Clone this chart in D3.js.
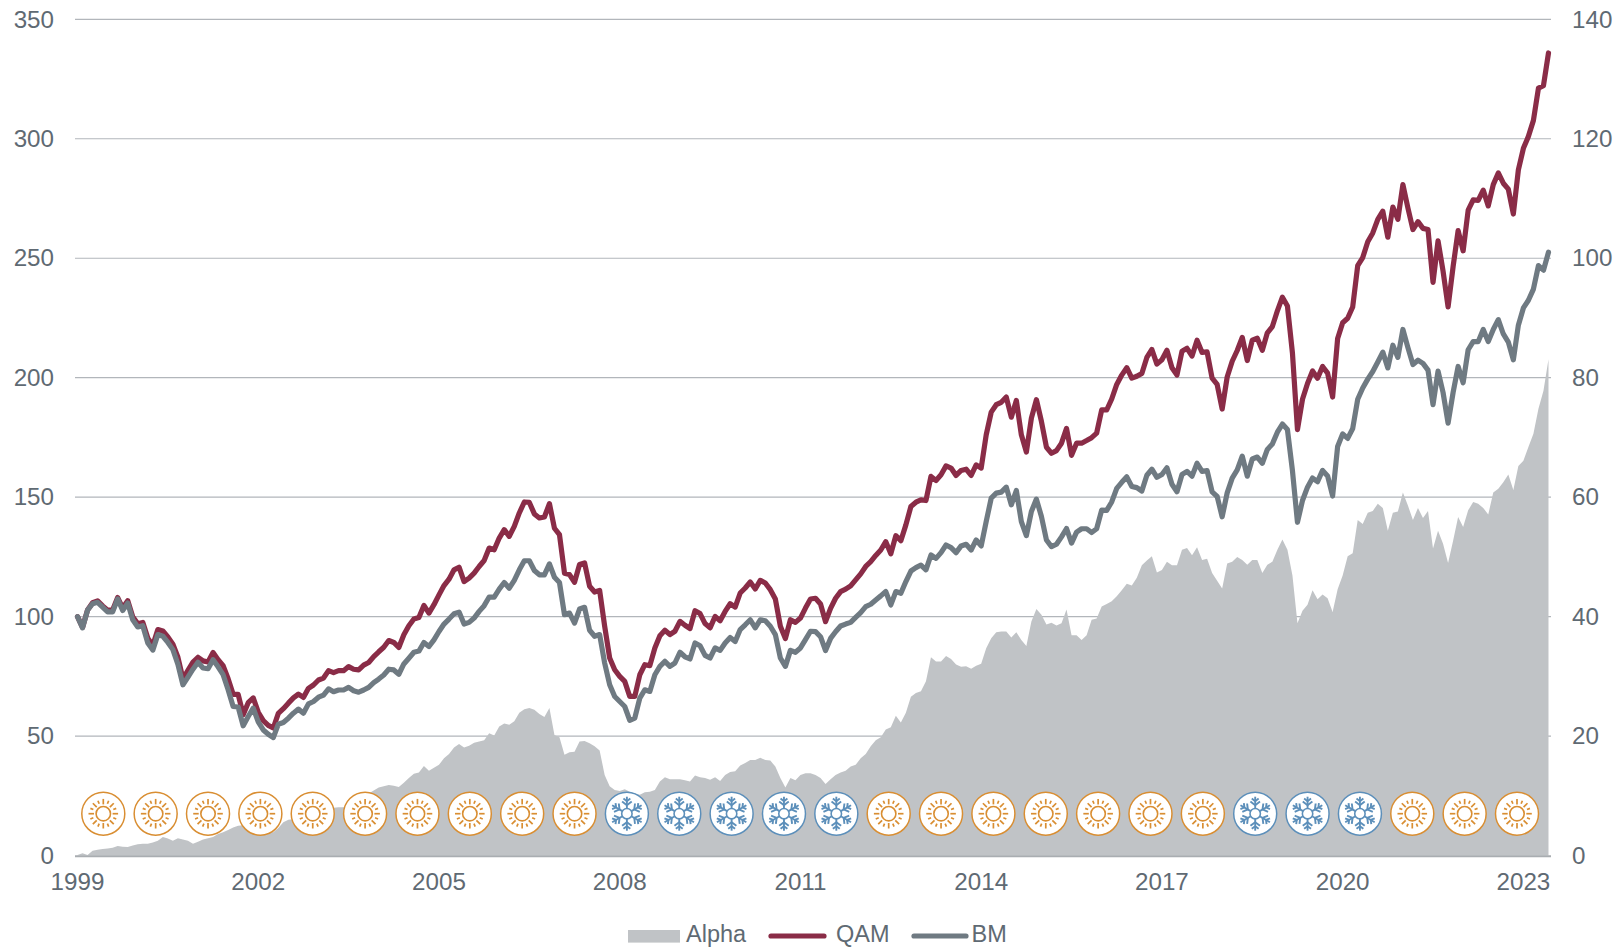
<!DOCTYPE html>
<html><head><meta charset="utf-8">
<script src="https://cdn.jsdelivr.net/npm/d3@7/dist/d3.min.js"></script>
<style>
html,body{margin:0;padding:0;background:#fff;overflow:hidden}
svg{display:block}
text{font-family:"Liberation Sans",Arial,sans-serif;fill:#5F6A73}
</style></head><body><div id="chart"></div>
<script>
const qam = [
100,95.5,102.8,105.8,106.6,104.5,102.7,102.8,108,103.6,106.7,100,97,97.6,91,88,94.6,94,91.5,88.5,83,74,77.5,81,83,81.5,81,85,82,79.5,74,67.5,67.5,59,64,66,60,56.5,54.5,53.4,59.5,61.5,63.8,66,67.6,66.2,70,71.4,73.5,
74.3,77.4,76.6,77.4,77.4,79.1,78,77.7,79.7,80.8,83.3,85.3,87.2,90,89.2,87.1,92.4,96.2,99,99.6,104.7,101.5,105,109.1,113,115.7,119.6,120.7,114.7,116.1,118.2,121,123.5,128.7,128,132.9,136.4,133.6,137.8,143.4,148,147.8,143,141.3,141.7,147.3,137,134.3,118.2,
117.6,114.4,121.8,122.5,112.7,110.3,111,96,82.7,77.8,75,72.9,66.6,66.6,75.7,79.9,79.5,86.9,92,94.3,92.5,93.9,98,96.4,95,102.5,101.3,97.1,95.3,100.1,98.3,102.2,105.4,104,109.9,112,114.5,111.6,115.2,114.1,111.3,107.4,96,90.8,98.7,97.6,99.4,103.6,107.4,
107.7,105.3,97.9,103.5,107.7,110.5,111.5,112.9,115.4,117.9,121,123,125.6,127.9,131.4,126.3,133.9,131.8,138.4,146.1,147.9,148.9,148.6,158.7,157,159.4,163.1,162.2,159.1,161.2,161.7,159.1,163.5,162.2,176.1,185.6,188.7,189.7,191.9,183.5,190.5,176.1,168.9,183.1,190.8,181.7,170.9,168.4,
169.5,172.6,178.8,167.5,172.6,172.6,173.7,174.9,176.8,186.5,186.5,191.1,197.2,201.1,204.2,199.8,200.6,201.8,208.5,211.8,205.7,207.5,211.5,204.2,201.1,211.1,212.3,209.1,215.7,210.6,210.8,199.8,197.2,186.9,200.3,206.9,211.4,216.9,207.2,215.7,216.5,211.5,218.8,221.4,228,233.7,230,210.3,178.3,
191,197.6,202.8,199.8,204.7,201.9,191.9,216.4,223,224.9,229.6,246.9,250.3,256.9,260.6,266.3,269.7,258.8,271.4,266.3,280.8,271,262,265.3,262.5,262,239.9,257.3,244.6,229.6,246.5,261.6,253.1,270.1,274.4,274.2,278.5,271.9,280.8,285.7,281.4,278.9,268.5,287,296,301,307.7,321.2,322.2,335.9];
const bm = [
100,95.3,102.7,105.4,106,104,102,102,107.4,102.6,105.7,98.7,95.7,96.2,89,86,92.5,91.8,89.2,86.2,80,71.5,74.7,78,80.9,78.5,78.2,82,79,75.7,69.4,62.4,62.2,54.3,58.2,61.7,56,52.6,50.8,49.4,55,55.7,57.5,59.6,61.3,59.6,63.5,64.5,66.3,
67.2,69.8,68.6,69.3,69.3,70.4,69,68.4,69.3,70.4,72.4,73.9,75.6,78,77.7,75.9,80.2,82.6,85.1,85.6,89.2,87.5,90.3,93.8,96.9,99,101.2,101.9,96.9,97.6,99.4,102.2,104.6,108.2,108.2,111.5,114.3,111.9,115.2,119.6,123.4,123.4,119.3,117.5,117.5,122.1,116.5,114.3,100.8,
101.5,97.3,103.2,103.9,94.3,91.8,92.5,80.6,71.5,66.6,64.5,62.4,56.6,57.5,65.9,69.4,68.7,75.7,79.2,81.3,79.2,80.6,85.1,83.2,82.3,89,87.8,83.8,82.7,86.9,85.9,89,91.3,89.6,94.6,96.6,98.7,95.3,98.7,98.3,96,92.5,82.7,79.2,85.9,85.1,86.9,90.4,93.9,
93.7,91.6,85.8,90.9,93.7,96.1,96.9,97.6,99.7,101.7,104.2,105.2,107,108.7,110.5,104.9,110.5,109.8,114.7,119.1,120.5,121.6,119.6,125.8,124.4,126.8,130,128.9,126.8,129.6,130.3,127.9,132.1,129.6,139.8,149.6,151.7,152.1,154.2,146.8,152.8,139.8,133.9,144,149.2,141.9,132.1,129.3,
130.3,133.4,136.9,130.8,135.4,136.8,136.8,135.2,136.8,144.6,144.5,148,153.7,156.2,158.5,154.5,154,152.6,159.2,161.7,158.3,159.5,162.3,155.4,152.3,159.5,160.8,158.8,164.2,160.8,161.1,152.2,150.3,141.8,151.8,158,161.4,167.2,158.8,166,166.8,164.2,170,172.3,177.2,180.6,178.3,161.1,139.5,
148.6,154.2,158,156.5,161.2,158.9,150.5,171.2,176.5,174.6,178.7,191,195.7,199.4,202.6,206.6,210.7,204.1,213.6,208.5,220.2,212.6,205.5,207.3,206,203.2,188.7,202.8,193.8,181,193.8,204.7,197.9,211.7,215.1,215.1,220.2,215.1,220.2,224.3,218.3,214.9,207.5,222,229.2,232.4,237.1,246.9,245,252.5];
const alpha = [
0.1,0.4,0.1,0.8,1,1.1,1.2,1.3,1.6,1.5,1.45,1.7,1.9,2,2,2.2,2.5,3.1,2.85,2.5,2.9,2.7,2.5,2,2.3,2.7,2.9,3.1,3.6,3.9,4.3,4.7,5,5.1,4.9,5.2,5.3,4.6,4,3.9,4.6,5.6,6,6.1,6.2,6.1,6.3,6.7,7,
7.1,7.6,8,8.1,8.1,8.7,9,9.3,10.4,10.4,10.9,11.4,11.6,11.8,11.7,11.5,12.2,13,13.7,13.9,15,14.2,14.7,15.2,16.3,17,18.1,18.7,18.1,18.4,18.9,19.1,19.3,20.5,20.1,21.6,22.1,21.9,22.5,23.9,24.5,24.7,24.4,23.7,23.2,24.7,20.2,19.8,16.9,
17.3,17.4,19.1,19.2,18.8,18.3,17.6,13.5,11.6,11,10.8,11.1,10.7,10.4,10.2,10.6,10.7,11,12.4,13.1,12.8,12.8,12.8,12.6,12.4,13.4,13.1,13,12.7,13.1,12.5,13.5,14,14.1,15.1,15.5,16,16,16.4,16,15.9,14.9,13,11.4,13,12.6,13.5,13.8,13.8,
13.5,13,12,12.8,13.5,13.9,14.2,14.9,15.2,16.3,17,18.3,19.3,19.8,21.1,21.5,23.4,22.3,23.9,26.6,27.2,27.5,29.2,33.2,32.5,32.5,33.4,32.9,32,31.6,31.7,31.3,31.8,32.1,34.7,36.4,37.4,37.5,37.5,36.5,37.4,36.1,35.1,39.2,41.3,40.3,38.7,39,
38.5,38.9,41.2,36.9,36.9,36.1,36.9,39.5,39.7,41.7,42.1,42.6,43.4,44.4,45.5,45.2,46.5,48.6,49.4,50.1,47.4,47.8,49.2,48.6,48.6,51.2,51.5,50.3,51.6,49.5,49.7,47.3,46,44.7,48.9,49.2,50,49.5,48.7,49.5,49.5,47.3,48.7,49.2,51.2,52.9,51.2,46.9,38.9,
41,42,44.4,42.9,43.7,43.1,40.8,44.6,46.9,50.1,50.6,56.2,55.5,57.4,57.7,58.9,58.2,54.4,57.4,57.6,60.8,58.6,56.2,58.2,56.5,57.7,51.4,54.4,52.2,49,52.7,56.7,55,57.8,59.2,58.9,58.2,57.1,60.8,61.4,62.5,63.8,61.2,65.2,66.1,68.4,70.6,74.8,77.8,83.1];
const months = d3.timeMonths(new Date(1999,0,1), new Date(2023,6,1));
const yearTicks = ["1999","2002","2005","2008","2011","2014","2017","2020","2023"];
const leftTicks = [0,50,100,150,200,250,300,350];
const rightTicks = [0,20,40,60,80,100,120,140];
const regimes = ["sun","sun","sun","sun","sun","sun","sun","sun","sun","sun","snow","snow","snow","snow","snow","sun","sun","sun","sun","sun","sun","sun","snow","snow","snow","sun","sun","sun"];
const legendItems = ["Alpha","QAM","BM"];

const W=1616,H=947, L=75, R=1551, T=19.3, B=855.6;
const C={qam:"#8A2C47",bm:"#6F7A82",alpha:"#C0C3C6",grid:"#B2B6BB",base:"#A9ADB1",sun:"#D98E32",snow:"#5C8FBA"};
const svg=d3.select("#chart").append("svg").attr("width",W).attr("height",H);
const x=d3.scaleBand().domain(months).range([L,R]).paddingInner(0).paddingOuter(0);
const cx=d=>x(d)+x.bandwidth()/2;
const yL=d3.scaleLinear().domain([0,350]).range([B,T]);
const yR=d3.scaleLinear().domain([0,140]).range([B,T]);

const fs=24.2;
const gL=svg.append("g").attr("transform",`translate(${L},0)`)
  .call(d3.axisLeft(yL).tickValues(leftTicks).tickSize(0).tickPadding(21));
gL.select(".domain").remove();
gL.selectAll("text").attr("font-size",fs);
svg.insert("g",":first-child").selectAll("line").data(leftTicks.slice(1)).join("line")
  .attr("x1",L).attr("x2",R).attr("y1",d=>yL(d)).attr("y2",d=>yL(d))
  .attr("stroke",C.grid).attr("stroke-width",1.2);

const gR=svg.append("g").attr("transform",`translate(${R},0)`)
  .call(d3.axisRight(yR).tickValues(rightTicks).tickSize(0).tickPadding(21));
gR.select(".domain").remove();
gR.selectAll("text").attr("font-size",fs);

const gX=svg.append("g").attr("transform",`translate(0,${B})`)
  .call(d3.axisBottom(x).tickValues(months.filter(m=>yearTicks.includes(String(m.getFullYear()))&&m.getMonth()===0)).tickFormat(d3.timeFormat("%Y")).tickSize(0).tickPadding(17));
gX.select(".domain").remove();
gX.selectAll("text").attr("font-size",fs);

const area=d3.area().x((d,i)=>cx(months[i])).y0(yR(0)).y1(d=>yR(d));
svg.append("path").datum(alpha).attr("d",area).attr("fill",C.alpha);
svg.append("line").attr("x1",L).attr("x2",R).attr("y1",B+0.6).attr("y2",B+0.6).attr("stroke",C.base).attr("stroke-width",2);

const line=d3.line().x((d,i)=>cx(months[i])).y(d=>yL(d));
[[qam,C.qam],[bm,C.bm]].forEach(([s,c])=>svg.append("path").datum(s).attr("d",line)
  .attr("fill","none").attr("stroke",c).attr("stroke-width",5.2).attr("stroke-linejoin","round").attr("stroke-linecap","round"));

const ix=d3.scalePoint().domain(d3.range(regimes.length)).range([103.3,1517]);
const iy=813.7, ir=21.5;
const pol=(r,a)=>[r*Math.sin(a),-r*Math.cos(a)];
const icons=svg.append("g").selectAll("g").data(regimes).join("g")
  .attr("transform",(d,i)=>`translate(${ix(i)},${iy})`);
icons.append("circle").attr("r",ir).attr("fill","#fff").attr("stroke",d=>d==="sun"?C.sun:C.snow).attr("stroke-width",1.5);
icons.each(function(d){
  const g=d3.select(this);
  const seg=(p,q,c,w)=>g.append("line").attr("x1",p[0]).attr("y1",p[1]).attr("x2",q[0]).attr("y2",q[1]).attr("stroke",c).attr("stroke-width",w).attr("stroke-linecap","butt");
  if(d==="sun"){
    g.append("circle").attr("r",7.2).attr("fill","none").attr("stroke",C.sun).attr("stroke-width",1.6);
    d3.range(16).forEach(k=>{const a=k*Math.PI/8, long=k%2===0;
      seg(pol(long?9.3:10.8,a),pol(long?14.8:14,a),C.sun,1.7);});
  }else{
    g.append("circle").attr("r",5.2).attr("fill","none").attr("stroke",C.snow).attr("stroke-width",1.6);
    d3.range(6).forEach(k=>{const a=k*Math.PI/3;
      seg(pol(5.2,a),pol(17,a),C.snow,1.9);
      [8.5,12.5].forEach(r=>{const b=pol(r,a);
        [-1,1].forEach(s=>{const t=a+s*Math.PI/3.4,l=r<10?6:4.3;
          seg(b,[b[0]+l*Math.sin(t),b[1]-l*Math.cos(t)],C.snow,1.9);});});
    });
  }
});

const lg=svg.append("g");
const legX=[686,836,971.5], legY=942, legFs=23.5;
lg.append("rect").attr("x",628).attr("y",930).attr("width",52).attr("height",12.6).attr("fill",C.alpha);
lg.append("line").attr("x1",771).attr("x2",824).attr("y1",936).attr("y2",936).attr("stroke",C.qam).attr("stroke-width",5.2).attr("stroke-linecap","round");
lg.append("line").attr("x1",914).attr("x2",966).attr("y1",936).attr("y2",936).attr("stroke",C.bm).attr("stroke-width",5.2).attr("stroke-linecap","round");
lg.selectAll("text").data(legendItems).join("text").attr("x",(d,i)=>legX[i]).attr("y",legY).attr("font-size",legFs).text(d=>d);
svg.selectAll("text").attr("fill","#5F6A73").style("font-family",'"Liberation Sans",Arial,sans-serif');
</script></body></html>
